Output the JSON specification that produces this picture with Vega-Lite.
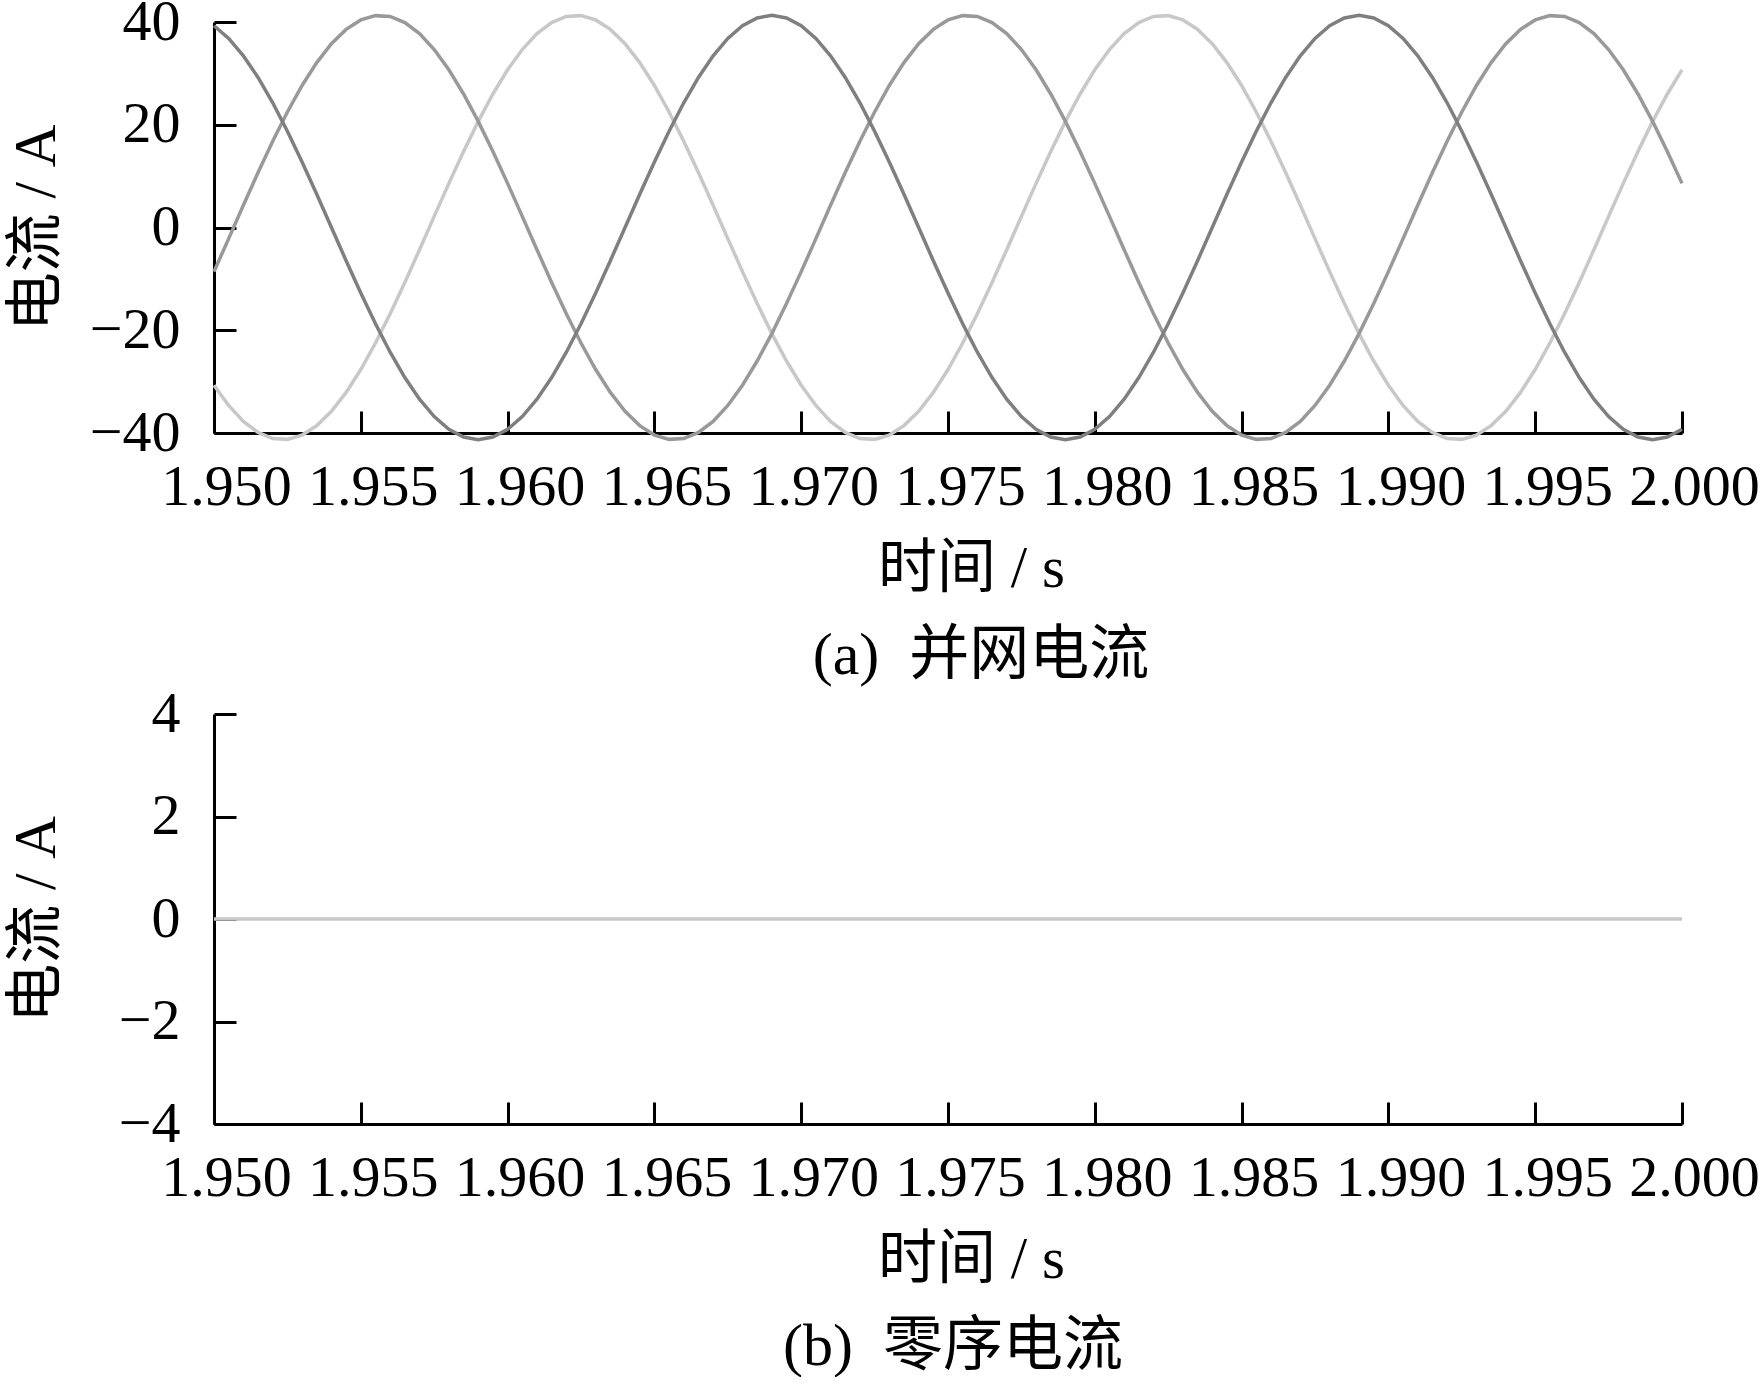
{
  "$schema": "https://vega.github.io/schema/vega-lite/v6.json",
  "padding": {"left": 6, "top": -7, "right": 0, "bottom": 0},
  "spacing": -1,
  "config": {
    "view": {"stroke": null},
    "font": "Liberation Serif, Noto Sans CJK SC",
    "axis": {
      "domainColor": "#000000",
      "domainWidth": 3,
      "tickColor": "#000000",
      "tickWidth": 3,
      "tickSize": -22,
      "grid": false,
      "labelFont": "Liberation Serif",
      "labelFontSize": 58,
      "labelColor": "#000000",
      "titleFont": "Liberation Serif, Noto Sans CJK SC",
      "titleFontSize": 59,
      "titleFontWeight": "normal",
      "titleColor": "#000000"
    }
  },
  "datasets": {
    "main": [
      {"t":1.95,"a":39.28,"b":-30.69,"c":-8.59},
      {"t":1.9505,"a":36.80,"b":-34.64,"c":-2.16},
      {"t":1.951,"a":33.41,"b":-37.73,"c":4.32},
      {"t":1.9515,"a":29.20,"b":-39.89,"c":10.69},
      {"t":1.952,"a":24.28,"b":-41.07,"c":16.80},
      {"t":1.9525,"a":18.75,"b":-41.24,"c":22.49},
      {"t":1.953,"a":12.76,"b":-40.40,"c":27.64},
      {"t":1.9535,"a":6.46,"b":-38.56,"c":32.10},
      {"t":1.954,"a":0,"b":-35.77,"c":35.77},
      {"t":1.9545,"a":-6.46,"b":-32.10,"c":38.56},
      {"t":1.955,"a":-12.76,"b":-27.64,"c":40.40},
      {"t":1.9555,"a":-18.75,"b":-22.49,"c":41.24},
      {"t":1.956,"a":-24.28,"b":-16.80,"c":41.07},
      {"t":1.9565,"a":-29.20,"b":-10.69,"c":39.89},
      {"t":1.957,"a":-33.41,"b":-4.32,"c":37.73},
      {"t":1.9575,"a":-36.80,"b":2.16,"c":34.64},
      {"t":1.958,"a":-39.28,"b":8.59,"c":30.69},
      {"t":1.9585,"a":-40.79,"b":14.80,"c":25.99},
      {"t":1.959,"a":-41.30,"b":20.65,"c":20.65},
      {"t":1.9595,"a":-40.79,"b":25.99,"c":14.80},
      {"t":1.96,"a":-39.28,"b":30.69,"c":8.59},
      {"t":1.9605,"a":-36.80,"b":34.64,"c":2.16},
      {"t":1.961,"a":-33.41,"b":37.73,"c":-4.32},
      {"t":1.9615,"a":-29.20,"b":39.89,"c":-10.69},
      {"t":1.962,"a":-24.28,"b":41.07,"c":-16.80},
      {"t":1.9625,"a":-18.75,"b":41.24,"c":-22.49},
      {"t":1.963,"a":-12.76,"b":40.40,"c":-27.64},
      {"t":1.9635,"a":-6.46,"b":38.56,"c":-32.10},
      {"t":1.964,"a":0,"b":35.77,"c":-35.77},
      {"t":1.9645,"a":6.46,"b":32.10,"c":-38.56},
      {"t":1.965,"a":12.76,"b":27.64,"c":-40.40},
      {"t":1.9655,"a":18.75,"b":22.49,"c":-41.24},
      {"t":1.966,"a":24.28,"b":16.80,"c":-41.07},
      {"t":1.9665,"a":29.20,"b":10.69,"c":-39.89},
      {"t":1.967,"a":33.41,"b":4.32,"c":-37.73},
      {"t":1.9675,"a":36.80,"b":-2.16,"c":-34.64},
      {"t":1.968,"a":39.28,"b":-8.59,"c":-30.69},
      {"t":1.9685,"a":40.79,"b":-14.80,"c":-25.99},
      {"t":1.969,"a":41.30,"b":-20.65,"c":-20.65},
      {"t":1.9695,"a":40.79,"b":-25.99,"c":-14.80},
      {"t":1.97,"a":39.28,"b":-30.69,"c":-8.59},
      {"t":1.9705,"a":36.80,"b":-34.64,"c":-2.16},
      {"t":1.971,"a":33.41,"b":-37.73,"c":4.32},
      {"t":1.9715,"a":29.20,"b":-39.89,"c":10.69},
      {"t":1.972,"a":24.28,"b":-41.07,"c":16.80},
      {"t":1.9725,"a":18.75,"b":-41.24,"c":22.49},
      {"t":1.973,"a":12.76,"b":-40.40,"c":27.64},
      {"t":1.9735,"a":6.46,"b":-38.56,"c":32.10},
      {"t":1.974,"a":0,"b":-35.77,"c":35.77},
      {"t":1.9745,"a":-6.46,"b":-32.10,"c":38.56},
      {"t":1.975,"a":-12.76,"b":-27.64,"c":40.40},
      {"t":1.9755,"a":-18.75,"b":-22.49,"c":41.24},
      {"t":1.976,"a":-24.28,"b":-16.80,"c":41.07},
      {"t":1.9765,"a":-29.20,"b":-10.69,"c":39.89},
      {"t":1.977,"a":-33.41,"b":-4.32,"c":37.73},
      {"t":1.9775,"a":-36.80,"b":2.16,"c":34.64},
      {"t":1.978,"a":-39.28,"b":8.59,"c":30.69},
      {"t":1.9785,"a":-40.79,"b":14.80,"c":25.99},
      {"t":1.979,"a":-41.30,"b":20.65,"c":20.65},
      {"t":1.9795,"a":-40.79,"b":25.99,"c":14.80},
      {"t":1.98,"a":-39.28,"b":30.69,"c":8.59},
      {"t":1.9805,"a":-36.80,"b":34.64,"c":2.16},
      {"t":1.981,"a":-33.41,"b":37.73,"c":-4.32},
      {"t":1.9815,"a":-29.20,"b":39.89,"c":-10.69},
      {"t":1.982,"a":-24.28,"b":41.07,"c":-16.80},
      {"t":1.9825,"a":-18.75,"b":41.24,"c":-22.49},
      {"t":1.983,"a":-12.76,"b":40.40,"c":-27.64},
      {"t":1.9835,"a":-6.46,"b":38.56,"c":-32.10},
      {"t":1.984,"a":0,"b":35.77,"c":-35.77},
      {"t":1.9845,"a":6.46,"b":32.10,"c":-38.56},
      {"t":1.985,"a":12.76,"b":27.64,"c":-40.40},
      {"t":1.9855,"a":18.75,"b":22.49,"c":-41.24},
      {"t":1.986,"a":24.28,"b":16.80,"c":-41.07},
      {"t":1.9865,"a":29.20,"b":10.69,"c":-39.89},
      {"t":1.987,"a":33.41,"b":4.32,"c":-37.73},
      {"t":1.9875,"a":36.80,"b":-2.16,"c":-34.64},
      {"t":1.988,"a":39.28,"b":-8.59,"c":-30.69},
      {"t":1.9885,"a":40.79,"b":-14.80,"c":-25.99},
      {"t":1.989,"a":41.30,"b":-20.65,"c":-20.65},
      {"t":1.9895,"a":40.79,"b":-25.99,"c":-14.80},
      {"t":1.99,"a":39.28,"b":-30.69,"c":-8.59},
      {"t":1.9905,"a":36.80,"b":-34.64,"c":-2.16},
      {"t":1.991,"a":33.41,"b":-37.73,"c":4.32},
      {"t":1.9915,"a":29.20,"b":-39.89,"c":10.69},
      {"t":1.992,"a":24.28,"b":-41.07,"c":16.80},
      {"t":1.9925,"a":18.75,"b":-41.24,"c":22.49},
      {"t":1.993,"a":12.76,"b":-40.40,"c":27.64},
      {"t":1.9935,"a":6.46,"b":-38.56,"c":32.10},
      {"t":1.994,"a":0,"b":-35.77,"c":35.77},
      {"t":1.9945,"a":-6.46,"b":-32.10,"c":38.56},
      {"t":1.995,"a":-12.76,"b":-27.64,"c":40.40},
      {"t":1.9955,"a":-18.75,"b":-22.49,"c":41.24},
      {"t":1.996,"a":-24.28,"b":-16.80,"c":41.07},
      {"t":1.9965,"a":-29.20,"b":-10.69,"c":39.89},
      {"t":1.997,"a":-33.41,"b":-4.32,"c":37.73},
      {"t":1.9975,"a":-36.80,"b":2.16,"c":34.64},
      {"t":1.998,"a":-39.28,"b":8.59,"c":30.69},
      {"t":1.9985,"a":-40.79,"b":14.80,"c":25.99},
      {"t":1.999,"a":-41.30,"b":20.65,"c":20.65},
      {"t":1.9995,"a":-40.79,"b":25.99,"c":14.80},
      {"t":2.0,"a":-39.28,"b":30.69,"c":8.59}
    ],
    "zero": [
      {"t":1.95,"i0":0},{"t":1.955,"i0":0},{"t":1.96,"i0":0},{"t":1.965,"i0":0},
      {"t":1.97,"i0":0},{"t":1.975,"i0":0},{"t":1.98,"i0":0},{"t":1.985,"i0":0},
      {"t":1.99,"i0":0},{"t":1.995,"i0":0},{"t":2.0,"i0":0}
    ]
  },
  "vconcat": [
    {
      "width": 1468,
      "height": 411,
      "data": {"name": "main"},
      "transform": [{"fold": ["b", "c", "a"], "as": ["phase", "i"]}],
      "mark": {"type": "line", "strokeWidth": 3.5, "clip": false},
      "encoding": {
        "x": {
          "field": "t", "type": "quantitative",
          "scale": {"domain": [1.95, 2.0], "nice": false, "zero": false},
          "axis": {
            "values": [1.95, 1.955, 1.96, 1.965, 1.97, 1.975, 1.98, 1.985, 1.99, 1.995, 2.0],
            "format": ".3f", "title": "时间 / s",
            "labelPadding": 47, "labelOffset": 12, "labelFlush": false, "labelOverlap": false, "labelBound": false,
            "titleX": 757, "titleY": 153, "titleBaseline": "alphabetic", "titleAlign": "center"
          }
        },
        "y": {
          "field": "i", "type": "quantitative",
          "scale": {"domain": [-40, 40], "nice": false},
          "axis": {
            "values": [-40, -20, 0, 20, 40], "title": "电流 / A",
            "labelPadding": 56, "titleX": -160, "titleY": 205.5, "titleBaseline": "alphabetic", "titleAlign": "center", "titleAngle": -90
          }
        },
        "color": {
          "field": "phase", "type": "nominal",
          "scale": {"domain": ["a", "b", "c"], "range": ["#7f7f7f", "#c8c8c8", "#999999"]},
          "legend": null
        }
      },
      "title": {"text": "(a)\u00a0\u00a0并网电流", "orient": "bottom", "anchor": "middle", "fontSize": 60, "font": "Liberation Serif, Noto Sans CJK SC", "fontWeight": "normal", "color": "#000000", "offset": 29, "dx": 33}
    },
    {
      "width": 1468,
      "height": 410,
      "data": {"name": "zero"},
      "mark": {"type": "line", "strokeWidth": 3.5, "color": "#c8c8c8", "clip": false},
      "encoding": {
        "x": {
          "field": "t", "type": "quantitative",
          "scale": {"domain": [1.95, 2.0], "nice": false, "zero": false},
          "axis": {
            "values": [1.95, 1.955, 1.96, 1.965, 1.97, 1.975, 1.98, 1.985, 1.99, 1.995, 2.0],
            "format": ".3f", "title": "时间 / s",
            "labelPadding": 47, "labelOffset": 12, "labelFlush": false, "labelOverlap": false, "labelBound": false,
            "titleX": 757, "titleY": 153, "titleBaseline": "alphabetic", "titleAlign": "center"
          }
        },
        "y": {
          "field": "i0", "type": "quantitative",
          "scale": {"domain": [-4, 4], "nice": false},
          "axis": {
            "values": [-4, -2, 0, 2, 4], "title": "电流 / A",
            "labelPadding": 56, "titleX": -160, "titleY": 205, "titleBaseline": "alphabetic", "titleAlign": "center", "titleAngle": -90
          }
        }
      },
      "title": {"text": "(b)\u00a0\u00a0零序电流", "orient": "bottom", "anchor": "middle", "fontSize": 60, "font": "Liberation Serif, Noto Sans CJK SC", "fontWeight": "normal", "color": "#000000", "offset": 29, "dx": 5}
    }
  ]
}
